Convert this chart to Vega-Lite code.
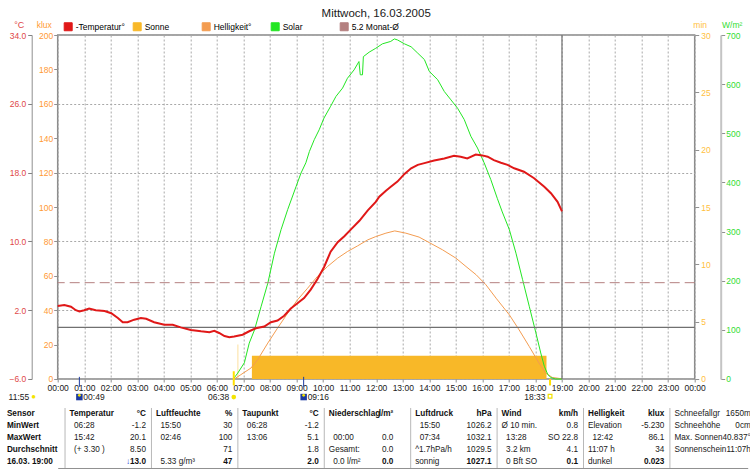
{
  "$schema": "https://vega.github.io/schema/vega-lite/v6.json",
  "padding": {"left": 5.7, "top": 6, "right": 0, "bottom": 0},
  "background": "#ffffff",
  "spacing": 4,
  "resolve": {"scale": {"x": "independent", "y": "independent", "color": "independent"}, "legend": {"color": "independent"}},
  "config": {
    "font": "Liberation Sans",
    "view": {"stroke": null},
    "axis": {"labelFont": "Liberation Sans", "titleFont": "Liberation Sans", "labelFontSize": 8.5, "titleFontSize": 8.5, "titleFontWeight": "normal", "labelOverlap": false},
    "axisY": {"labelOverlap": false},
    "legend": {"labelFont": "Liberation Sans"},
    "title": {"font": "Liberation Sans"},
    "text": {"font": "Liberation Sans", "fontSize": 8.5, "color": "#202020"}
  },
  "datasets": {
    "temp": [
      {"t": "2005-03-16T00:00", "c": 2.5}, {"t": "2005-03-16T00:15", "c": 2.6}, {"t": "2005-03-16T00:30", "c": 2.4},
      {"t": "2005-03-16T00:41", "c": 2.0}, {"t": "2005-03-16T00:49", "c": 1.85}, {"t": "2005-03-16T01:00", "c": 2.0},
      {"t": "2005-03-16T01:11", "c": 2.2}, {"t": "2005-03-16T01:26", "c": 2.0}, {"t": "2005-03-16T01:46", "c": 1.9},
      {"t": "2005-03-16T02:01", "c": 1.65}, {"t": "2005-03-16T02:16", "c": 1.1}, {"t": "2005-03-16T02:27", "c": 0.6},
      {"t": "2005-03-16T02:38", "c": 0.6}, {"t": "2005-03-16T02:53", "c": 0.9}, {"t": "2005-03-16T03:08", "c": 1.1},
      {"t": "2005-03-16T03:20", "c": 1.0}, {"t": "2005-03-16T03:38", "c": 0.6}, {"t": "2005-03-16T04:01", "c": 0.3},
      {"t": "2005-03-16T04:20", "c": 0.3}, {"t": "2005-03-16T04:38", "c": 0.0}, {"t": "2005-03-16T05:01", "c": -0.3},
      {"t": "2005-03-16T05:24", "c": -0.45}, {"t": "2005-03-16T05:43", "c": -0.55}, {"t": "2005-03-16T05:54", "c": -0.4},
      {"t": "2005-03-16T06:05", "c": -0.65}, {"t": "2005-03-16T06:17", "c": -1.0}, {"t": "2005-03-16T06:28", "c": -1.15},
      {"t": "2005-03-16T06:39", "c": -1.05}, {"t": "2005-03-16T06:58", "c": -0.85}, {"t": "2005-03-16T07:13", "c": -0.45},
      {"t": "2005-03-16T07:28", "c": -0.1}, {"t": "2005-03-16T07:47", "c": 0.1}, {"t": "2005-03-16T08:02", "c": 0.6},
      {"t": "2005-03-16T08:17", "c": 0.8}, {"t": "2005-03-16T08:32", "c": 1.35}, {"t": "2005-03-16T08:47", "c": 2.2},
      {"t": "2005-03-16T09:02", "c": 2.8}, {"t": "2005-03-16T09:17", "c": 3.4}, {"t": "2005-03-16T09:32", "c": 4.4},
      {"t": "2005-03-16T09:47", "c": 5.6}, {"t": "2005-03-16T10:02", "c": 7.0}, {"t": "2005-03-16T10:17", "c": 8.8},
      {"t": "2005-03-16T10:33", "c": 9.9}, {"t": "2005-03-16T10:48", "c": 10.6}, {"t": "2005-03-16T11:03", "c": 11.4},
      {"t": "2005-03-16T11:22", "c": 12.4}, {"t": "2005-03-16T11:41", "c": 13.6}, {"t": "2005-03-16T11:59", "c": 14.6},
      {"t": "2005-03-16T12:07", "c": 15.2}, {"t": "2005-03-16T12:22", "c": 15.9}, {"t": "2005-03-16T12:33", "c": 16.35},
      {"t": "2005-03-16T12:48", "c": 16.95}, {"t": "2005-03-16T13:04", "c": 17.85}, {"t": "2005-03-16T13:19", "c": 18.5},
      {"t": "2005-03-16T13:34", "c": 18.9}, {"t": "2005-03-16T13:49", "c": 19.1}, {"t": "2005-03-16T14:11", "c": 19.4},
      {"t": "2005-03-16T14:34", "c": 19.65}, {"t": "2005-03-16T14:56", "c": 19.95}, {"t": "2005-03-16T15:11", "c": 19.85},
      {"t": "2005-03-16T15:26", "c": 19.65}, {"t": "2005-03-16T15:45", "c": 20.1}, {"t": "2005-03-16T16:00", "c": 20.0},
      {"t": "2005-03-16T16:12", "c": 19.85}, {"t": "2005-03-16T16:26", "c": 19.45}, {"t": "2005-03-16T16:42", "c": 19.15},
      {"t": "2005-03-16T16:57", "c": 18.9}, {"t": "2005-03-16T17:12", "c": 18.5}, {"t": "2005-03-16T17:34", "c": 18.1},
      {"t": "2005-03-16T17:57", "c": 17.35}, {"t": "2005-03-16T18:20", "c": 16.35}, {"t": "2005-03-16T18:35", "c": 15.6},
      {"t": "2005-03-16T18:50", "c": 14.6}, {"t": "2005-03-16T19:00", "c": 13.5}
    ],
    "solar": [
      {"t": "2005-03-16T06:37", "w": 0}, {"t": "2005-03-16T06:47", "w": 12}, {"t": "2005-03-16T07:02", "w": 33},
      {"t": "2005-03-16T07:13", "w": 73}, {"t": "2005-03-16T07:25", "w": 100}, {"t": "2005-03-16T07:40", "w": 148},
      {"t": "2005-03-16T07:55", "w": 195}, {"t": "2005-03-16T08:10", "w": 256}, {"t": "2005-03-16T08:25", "w": 304},
      {"t": "2005-03-16T08:40", "w": 345}, {"t": "2005-03-16T08:59", "w": 392}, {"t": "2005-03-16T09:10", "w": 419},
      {"t": "2005-03-16T09:21", "w": 440}, {"t": "2005-03-16T09:29", "w": 463}, {"t": "2005-03-16T09:40", "w": 487},
      {"t": "2005-03-16T09:51", "w": 507}, {"t": "2005-03-16T10:02", "w": 531}, {"t": "2005-03-16T10:17", "w": 555},
      {"t": "2005-03-16T10:29", "w": 575}, {"t": "2005-03-16T10:44", "w": 592}, {"t": "2005-03-16T10:55", "w": 612},
      {"t": "2005-03-16T11:10", "w": 629}, {"t": "2005-03-16T11:21", "w": 646}, {"t": "2005-03-16T11:24", "w": 619},
      {"t": "2005-03-16T11:29", "w": 619}, {"t": "2005-03-16T11:31", "w": 656}, {"t": "2005-03-16T11:44", "w": 665},
      {"t": "2005-03-16T11:59", "w": 673}, {"t": "2005-03-16T12:14", "w": 682}, {"t": "2005-03-16T12:33", "w": 687},
      {"t": "2005-03-16T12:41", "w": 692}, {"t": "2005-03-16T12:48", "w": 690}, {"t": "2005-03-16T13:04", "w": 682},
      {"t": "2005-03-16T13:19", "w": 676}, {"t": "2005-03-16T13:34", "w": 663}, {"t": "2005-03-16T13:49", "w": 650},
      {"t": "2005-03-16T14:00", "w": 626}, {"t": "2005-03-16T14:19", "w": 609}, {"t": "2005-03-16T14:34", "w": 585},
      {"t": "2005-03-16T14:49", "w": 568}, {"t": "2005-03-16T15:04", "w": 551}, {"t": "2005-03-16T15:19", "w": 528},
      {"t": "2005-03-16T15:34", "w": 494}, {"t": "2005-03-16T15:49", "w": 470}, {"t": "2005-03-16T16:04", "w": 440},
      {"t": "2005-03-16T16:19", "w": 406}, {"t": "2005-03-16T16:34", "w": 367}, {"t": "2005-03-16T16:45", "w": 340},
      {"t": "2005-03-16T17:01", "w": 304}, {"t": "2005-03-16T17:16", "w": 256}, {"t": "2005-03-16T17:31", "w": 202},
      {"t": "2005-03-16T17:46", "w": 148}, {"t": "2005-03-16T18:01", "w": 94}, {"t": "2005-03-16T18:12", "w": 53},
      {"t": "2005-03-16T18:20", "w": 26}, {"t": "2005-03-16T18:28", "w": 9}, {"t": "2005-03-16T18:35", "w": 3},
      {"t": "2005-03-16T18:45", "w": 0}, {"t": "2005-03-16T19:00", "w": 0}
    ],
    "hell": [
      {"t": "2005-03-16T06:39", "k": 0}, {"t": "2005-03-16T06:54", "k": 2.5}, {"t": "2005-03-16T07:17", "k": 6.4},
      {"t": "2005-03-16T07:32", "k": 11.2}, {"t": "2005-03-16T07:55", "k": 20.9}, {"t": "2005-03-16T08:17", "k": 29.6},
      {"t": "2005-03-16T08:40", "k": 38.3}, {"t": "2005-03-16T09:02", "k": 46}, {"t": "2005-03-16T09:25", "k": 52.8},
      {"t": "2005-03-16T09:47", "k": 59.6}, {"t": "2005-03-16T10:10", "k": 65.4}, {"t": "2005-03-16T10:33", "k": 70.3},
      {"t": "2005-03-16T10:55", "k": 74.1}, {"t": "2005-03-16T11:18", "k": 77.4}, {"t": "2005-03-16T11:41", "k": 80.9},
      {"t": "2005-03-16T11:59", "k": 82.8}, {"t": "2005-03-16T12:22", "k": 84.8}, {"t": "2005-03-16T12:42", "k": 86.1},
      {"t": "2005-03-16T13:07", "k": 84.8}, {"t": "2005-03-16T13:37", "k": 82.5}, {"t": "2005-03-16T14:00", "k": 79.3},
      {"t": "2005-03-16T14:30", "k": 75.1}, {"t": "2005-03-16T15:00", "k": 70.3}, {"t": "2005-03-16T15:23", "k": 65.4},
      {"t": "2005-03-16T15:46", "k": 60.6}, {"t": "2005-03-16T16:08", "k": 54.8}, {"t": "2005-03-16T16:31", "k": 47},
      {"t": "2005-03-16T17:01", "k": 37.3}, {"t": "2005-03-16T17:23", "k": 28.6}, {"t": "2005-03-16T17:46", "k": 18.9},
      {"t": "2005-03-16T18:08", "k": 9.3}, {"t": "2005-03-16T18:23", "k": 3.5}, {"t": "2005-03-16T18:38", "k": 0.9},
      {"t": "2005-03-16T19:00", "k": 0.1}
    ],
    "sonne": [
      {"t": "2005-03-16T00:00", "m": 0},
      {"t": "2005-03-16T06:40", "m": 0}, {"t": "2005-03-16T06:47", "m": 3.0}, {"t": "2005-03-16T06:48", "m": 0},
      {"t": "2005-03-16T07:19", "m": 2.03}, {"t": "2005-03-16T18:25", "m": 0}, {"t": "2005-03-16T19:00", "m": 0},
      {"t": "2005-03-17T00:00", "m": 0}
    ],
    "ann": [
      {"t": "2005-03-16T06:38", "label": "06:38", "kind": "Sonnenaufgang"},
      {"t": "2005-03-16T18:33", "label": "18:33", "kind": "Sonnenuntergang"},
      {"t": "2005-03-16T00:49", "label": "00:49", "kind": "Mond"},
      {"t": "2005-03-16T09:16", "label": "09:16", "kind": "Mond"},
      {"t": "2005-03-16T00:00", "label": "11:55", "kind": "Tageslänge"},
      {"t": "2005-03-16T19:00", "label": "16.03. 19:00", "kind": "Jetzt"}
    ],
    "table": [
      {"row": "Sensor", "col": 0, "l": "Temperatur", "r": "°C"},
      {"row": "Sensor", "col": 1, "l": "Luftfeuchte", "r": "%"},
      {"row": "Sensor", "col": 2, "l": "Taupunkt", "r": "°C"},
      {"row": "Sensor", "col": 3, "l": "Niederschlag", "r": "l/m²"},
      {"row": "Sensor", "col": 4, "l": "Luftdruck", "r": "hPa"},
      {"row": "Sensor", "col": 5, "l": "Wind", "r": "km/h"},
      {"row": "Sensor", "col": 6, "l": "Helligkeit", "r": "klux"},
      {"row": "Sensor", "col": 7, "l": "Schneefallgr", "r": "1650m"},
      {"row": "MinWert", "col": 0, "l": "06:28", "r": "-1.2"},
      {"row": "MinWert", "col": 1, "l": "15:50", "r": "30"},
      {"row": "MinWert", "col": 2, "l": "06:28", "r": "-1.2"},
      {"row": "MinWert", "col": 3, "l": "", "r": ""},
      {"row": "MinWert", "col": 4, "l": "15:50", "r": "1026.2"},
      {"row": "MinWert", "col": 5, "l": "Ø 10 min.", "r": "0.8"},
      {"row": "MinWert", "col": 6, "l": "Elevation", "r": "-5.230"},
      {"row": "MinWert", "col": 7, "l": "Schneehöhe", "r": "0cm"},
      {"row": "MaxWert", "col": 0, "l": "15:42", "r": "20.1"},
      {"row": "MaxWert", "col": 1, "l": "02:46", "r": "100"},
      {"row": "MaxWert", "col": 2, "l": "13:06", "r": "5.1"},
      {"row": "MaxWert", "col": 3, "l": "00:00", "r": "0.0"},
      {"row": "MaxWert", "col": 4, "l": "07:34", "r": "1032.1"},
      {"row": "MaxWert", "col": 5, "l": "13:28", "r": "SO 22.8"},
      {"row": "MaxWert", "col": 6, "l": "12:42", "r": "86.1"},
      {"row": "MaxWert", "col": 7, "l": "Max. Sonnen", "r": "40.837°"},
      {"row": "Durchschnitt", "col": 0, "l": "(+ 3.30 )", "r": "8.50"},
      {"row": "Durchschnitt", "col": 1, "l": "", "r": "71"},
      {"row": "Durchschnitt", "col": 2, "l": "", "r": "1.8"},
      {"row": "Durchschnitt", "col": 3, "l": "Gesamt:", "r": "0.0"},
      {"row": "Durchschnitt", "col": 4, "l": "^1.7hPa/h", "r": "1029.5"},
      {"row": "Durchschnitt", "col": 5, "l": "3.2 km", "r": "4.1"},
      {"row": "Durchschnitt", "col": 6, "l": "11:07 h", "r": "34"},
      {"row": "Durchschnitt", "col": 7, "l": "Sonnenschein", "r": "11:07h"},
      {"row": "16.03. 19:00", "col": 0, "l": "", "r": "13.0", "pfeil": "↓"},
      {"row": "16.03. 19:00", "col": 1, "l": "5.33 g/m³", "r": "47"},
      {"row": "16.03. 19:00", "col": 2, "l": "", "r": "2.0"},
      {"row": "16.03. 19:00", "col": 3, "l": "0.0 l/m²", "r": "0.0"},
      {"row": "16.03. 19:00", "col": 4, "l": "sonnig", "r": "1027.1"},
      {"row": "16.03. 19:00", "col": 5, "l": "0 Bft SO", "r": "0.1"},
      {"row": "16.03. 19:00", "col": 6, "l": "dunkel", "r": "0.023"},
      {"row": "16.03. 19:00", "col": 7, "l": "", "r": ""}
    ]
  },
  "vconcat": [
    {
      "width": 637,
      "height": 344,
      "title": {"text": "Mittwoch, 16.03.2005", "anchor": "middle", "frame": "group", "fontSize": 11.5, "fontWeight": "normal", "color": "#202020", "offset": 1},
      "view": {"stroke": "#888888", "strokeWidth": 1.5},
      "resolve": {"scale": {"y": "independent"}},
      "layer": [
        {
          "data": {"name": "sonne"},
          "mark": {"type": "area", "interpolate": "step-after", "opacity": 1},
          "encoding": {
            "x": {
              "field": "t", "type": "temporal",
              "scale": {"nice": false},
              "axis": {
                "orient": "bottom", "title": null, "tickCount": 24, "format": "%H:%M",
                "labelFlush": false, "labelOverlap": false, "labelColor": "#202020", "labelPadding": 2,
                "domain": false, "ticks": true, "tickSize": 3, "tickColor": "#909090",
                "grid": true, "gridColor": "#a8a8a8", "gridDash": [2, 2]
              }
            },
            "y": {
              "field": "m", "type": "quantitative",
              "scale": {"domain": [0, 30], "nice": false, "zero": true},
              "axis": {
                "orient": "right", "offset": 0, "values": [0, 5, 10, 15, 20, 25, 30], "format": "d", "labelOverlap": false,
                "labelColor": "#ffc040", "labelPadding": 2, "tickSize": 4, "tickColor": "#909090", "domain": false, "grid": false,
                "title": "min", "titleColor": "#ffc040", "titleAngle": 0, "titleX": 5, "titleY": -11, "titleAlign": "center", "titleBaseline": "middle"
              }
            },
            "color": {
              "datum": "Sonne", "type": "nominal",
              "scale": {"domain": ["-Temperatur°", "Sonne", "Helligkeit°", "Solar", "5.2 Monat-Ø"], "range": ["#e01818", "#f8b828", "#f39c50", "#22e622", "#b48080"]},
              "legend": {
                "orient": "none", "legendX": 6, "legendY": -13, "direction": "horizontal", "columns": 5, "gridAlign": "all",
                "columnPadding": 5, "symbolType": "square", "symbolSize": 64, "symbolStrokeColor": "#303030", "symbolStrokeWidth": 1,
                "labelOffset": 3, "title": null, "labelFontSize": 8.5, "labelLimit": 200
              }
            }
          }
        },
        {
          "data": {"name": "hell"},
          "mark": {"type": "line", "strokeWidth": 1},
          "encoding": {
            "x": {"field": "t", "type": "temporal"},
            "y": {
              "field": "k", "type": "quantitative",
              "scale": {"domain": [0, 200], "nice": false},
              "axis": {
                "orient": "left", "offset": 0, "values": [0, 20, 40, 60, 80, 100, 120, 140, 160, 180, 200], "format": "d", "labelOverlap": false,
                "labelColor": "#ff9933", "labelPadding": 1, "tickSize": 4, "tickColor": "#909090", "domain": false, "grid": false,
                "title": "klux", "titleColor": "#ff9933", "titleAngle": 0, "titleX": -14, "titleY": -11, "titleAlign": "center", "titleBaseline": "middle"
              }
            },
            "color": {"datum": "Helligkeit°", "type": "nominal"}
          }
        },
        {
          "data": {"name": "solar"},
          "mark": {"type": "line", "strokeWidth": 1},
          "encoding": {
            "x": {"field": "t", "type": "temporal"},
            "y": {
              "field": "w", "type": "quantitative",
              "scale": {"domain": [0, 700], "nice": false},
              "axis": {
                "orient": "right", "offset": 26, "values": [0, 100, 200, 300, 400, 500, 600, 700], "format": "d", "labelOverlap": false,
                "labelColor": "#33dd33", "labelPadding": 1, "tickSize": 4, "tickColor": "#909090",
                "domain": true, "domainColor": "#c4c4c4", "domainWidth": 2, "grid": false,
                "title": "W/m²", "titleColor": "#33dd33", "titleAngle": 0, "titleX": 11, "titleY": -11, "titleAlign": "center", "titleBaseline": "middle"
              }
            },
            "color": {"datum": "Solar", "type": "nominal"}
          }
        },
        {
          "layer": [
            {
              "data": {"values": [{"ref": "0 °C"}]},
              "mark": {"type": "rule", "color": "#707070", "strokeWidth": 1.2},
              "encoding": {"y": {"datum": 0, "type": "quantitative"}}
            },
            {
              "data": {"name": "ann"},
              "transform": [{"filter": "datum.kind === 'Jetzt'"}],
              "mark": {"type": "rule", "color": "#707070", "strokeWidth": 1.2},
              "encoding": {"x": {"field": "t", "type": "temporal"}}
            },
            {
              "data": {"values": [{"avg": 5.2}]},
              "mark": {"type": "rule", "strokeDash": [10, 5], "strokeWidth": 1},
              "encoding": {
                "y": {"field": "avg", "type": "quantitative"},
                "color": {"datum": "5.2 Monat-Ø", "type": "nominal"}
              }
            },
            {
              "data": {"name": "temp"},
              "mark": {"type": "line", "strokeWidth": 2},
              "encoding": {
                "x": {"field": "t", "type": "temporal"},
                "y": {
                  "field": "c", "type": "quantitative",
                  "scale": {"domain": [-6, 34], "nice": false, "zero": false},
                  "axis": {
                    "orient": "left", "offset": 26, "values": [-6, -4, -2, 0, 2, 4, 6, 8, 10, 12, 14, 16, 18, 20, 22, 24, 26, 28, 30, 32, 34], "format": ".1f", "labelOverlap": false,
                    "labelColor": "#e04848", "labelPadding": 2, "tickSize": 4, "tickColor": "#808080",
                    "domain": true, "domainColor": "#909090", "grid": true, "gridColor": "#a8a8a8", "gridDash": [2, 2],
                    "title": "°C", "titleColor": "#e04848", "titleAngle": 0, "titleX": -13, "titleY": -11, "titleAlign": "center", "titleBaseline": "middle", "titleFontSize": 9
                  }
                },
                "color": {"datum": "-Temperatur°", "type": "nominal"}
              }
            },
            {
              "data": {"name": "ann"},
              "transform": [{"filter": "datum.kind === 'Sonnenaufgang'"}],
              "mark": {"type": "rule", "color": "#ffe000", "strokeWidth": 2},
              "encoding": {"x": {"field": "t", "type": "temporal"}, "y": {"datum": -5.1}, "y2": {"datum": -6.75}}
            },
            {
              "data": {"name": "ann"},
              "transform": [{"filter": "datum.kind === 'Sonnenuntergang'"}],
              "mark": {"type": "rule", "color": "#ffe000", "strokeWidth": 2},
              "encoding": {"x": {"field": "t", "type": "temporal"}, "y": {"datum": -6.0}, "y2": {"datum": -6.75}}
            },
            {
              "data": {"name": "ann"},
              "transform": [{"filter": "datum.kind === 'Mond'"}],
              "mark": {"type": "rule", "color": "#1c3aa0", "strokeWidth": 1},
              "encoding": {"x": {"field": "t", "type": "temporal"}, "y": {"datum": -5.75}, "y2": {"datum": -6.9}}
            },
            {
              "data": {"name": "ann"},
              "transform": [{"filter": "datum.kind === 'Sonnenaufgang' || datum.kind === 'Sonnenuntergang'"}],
              "mark": {"type": "text", "align": "right", "baseline": "middle", "dx": -4.5},
              "encoding": {"x": {"field": "t", "type": "temporal"}, "y": {"datum": -8.1}, "text": {"field": "label"}}
            },
            {
              "data": {"name": "ann"},
              "transform": [{"filter": "datum.kind === 'Sonnenaufgang'"}],
              "mark": {"type": "point", "shape": "circle", "filled": true, "color": "#f4e400", "size": 22, "opacity": 1},
              "encoding": {"x": {"field": "t", "type": "temporal"}, "y": {"datum": -8.1}}
            },
            {
              "data": {"name": "ann"},
              "transform": [{"filter": "datum.kind === 'Sonnenuntergang'"}],
              "mark": {"type": "point", "shape": "square", "filled": false, "color": "#f0e000", "size": 14, "strokeWidth": 1.2, "opacity": 1},
              "encoding": {"x": {"field": "t", "type": "temporal"}, "y": {"datum": -8.0}}
            },
            {
              "data": {"name": "ann"},
              "transform": [{"filter": "datum.kind === 'Mond'"}],
              "mark": {"type": "point", "shape": "square", "filled": true, "color": "#1c3aa0", "size": 42, "opacity": 1},
              "encoding": {"x": {"field": "t", "type": "temporal"}, "y": {"datum": -8.1}}
            },
            {
              "data": {"name": "ann"},
              "transform": [{"filter": "datum.kind === 'Mond'"}],
              "mark": {"type": "point", "shape": "circle", "filled": true, "color": "#f4e400", "size": 8, "opacity": 1},
              "encoding": {"x": {"field": "t", "type": "temporal"}, "y": {"datum": -7.9}}
            },
            {
              "data": {"name": "ann"},
              "transform": [{"filter": "datum.kind === 'Mond'"}],
              "mark": {"type": "text", "align": "left", "baseline": "middle", "dx": 4},
              "encoding": {"x": {"field": "t", "type": "temporal"}, "y": {"datum": -8.1}, "text": {"field": "label"}}
            },
            {
              "data": {"name": "ann"},
              "transform": [{"filter": "datum.kind === 'Tageslänge'"}],
              "mark": {"type": "text", "align": "right", "baseline": "middle", "dx": -28.5},
              "encoding": {"x": {"field": "t", "type": "temporal"}, "y": {"datum": -8.1}, "text": {"field": "label"}}
            },
            {
              "data": {"name": "ann"},
              "transform": [{"filter": "datum.kind === 'Tageslänge'"}],
              "mark": {"type": "text", "align": "center", "baseline": "middle", "dx": -24, "fontSize": 8, "color": "#f4e400"},
              "encoding": {"x": {"field": "t", "type": "temporal"}, "y": {"datum": -8.1}, "text": {"value": "●"}}
            }
          ]
        }
      ]
    },
    {
      "width": 690,
      "height": 60,
      "view": {"stroke": null},
      "data": {"name": "table"},
      "layer": [
        {
          "transform": [{"filter": "datum.row === 'Sensor'"}],
          "mark": {"type": "rule", "color": "#b8b8b8", "strokeWidth": 1},
          "encoding": {"x": {"field": "col", "type": "quantitative", "scale": {"domain": [-0.085, 7.9], "nice": false, "zero": false}, "axis": {"orient": "bottom", "title": null, "labels": false, "ticks": false, "grid": false, "domain": true, "domainColor": "#909090"}}}
        },
        {
          "transform": [{"filter": "datum.row === 'Sensor' && datum.col < 7"}],
          "mark": {"type": "text", "align": "left", "baseline": "middle", "dx": 4.5, "fontWeight": "bold", "color": "#101010", "fontSize": 8.2},
          "encoding": {
            "x": {"field": "col", "type": "quantitative"},
            "y": {
              "field": "row", "type": "nominal",
              "scale": {"domain": ["Sensor", "MinWert", "MaxWert", "Durchschnitt", "16.03. 19:00"], "padding": 0.5},
              "axis": {"orient": "left", "title": null, "domain": false, "ticks": false, "tickSize": 0, "labelAlign": "left", "labelPadding": 51.3, "labelFontWeight": "bold", "labelFontSize": 8.2, "labelColor": "#101010", "labelBaseline": "middle", "labelLimit": 0, "grid": false}
            },
            "text": {"field": "l"}
          }
        },
        {
          "transform": [{"filter": "!(datum.row === 'Sensor' && datum.col < 7) && !(test(/^[0-9(]/, datum.l) && !test(/ h$/, datum.l))"}],
          "mark": {"type": "text", "align": "left", "baseline": "middle", "dx": 4.5, "fontSize": 8.2},
          "encoding": {"x": {"field": "col", "type": "quantitative"}, "y": {"field": "row", "type": "nominal"}, "text": {"field": "l"}}
        },
        {
          "transform": [{"filter": "test(/^[0-9(]/, datum.l) && !test(/ h$/, datum.l)"}],
          "mark": {"type": "text", "align": "left", "baseline": "middle", "dx": 9, "fontSize": 8.2},
          "encoding": {"x": {"field": "col", "type": "quantitative"}, "y": {"field": "row", "type": "nominal"}, "text": {"field": "l"}}
        },
        {
          "transform": [{"filter": "((datum.row === 'Sensor' && datum.col < 7) || datum.row === '16.03. 19:00') && datum.col !== 3"}],
          "mark": {"type": "text", "align": "right", "baseline": "middle", "dx": 80.9, "fontWeight": "bold", "color": "#101010", "fontSize": 8.2},
          "encoding": {"x": {"field": "col", "type": "quantitative"}, "y": {"field": "row", "type": "nominal"}, "text": {"field": "r"}}
        },
        {
          "transform": [{"filter": "((datum.row === 'Sensor' && datum.col < 7) || datum.row === '16.03. 19:00') && datum.col === 3"}],
          "mark": {"type": "text", "align": "right", "baseline": "middle", "dx": 69, "fontWeight": "bold", "color": "#101010", "fontSize": 8.2},
          "encoding": {"x": {"field": "col", "type": "quantitative"}, "y": {"field": "row", "type": "nominal"}, "text": {"field": "r"}}
        },
        {
          "transform": [{"filter": "!((datum.row === 'Sensor' && datum.col < 7) || datum.row === '16.03. 19:00') && datum.col !== 3"}],
          "mark": {"type": "text", "align": "right", "baseline": "middle", "dx": 80.9, "fontSize": 8.2},
          "encoding": {"x": {"field": "col", "type": "quantitative"}, "y": {"field": "row", "type": "nominal"}, "text": {"field": "r"}}
        },
        {
          "transform": [{"filter": "!((datum.row === 'Sensor' && datum.col < 7) || datum.row === '16.03. 19:00') && datum.col === 3"}],
          "mark": {"type": "text", "align": "right", "baseline": "middle", "dx": 69, "fontSize": 8.2},
          "encoding": {"x": {"field": "col", "type": "quantitative"}, "y": {"field": "row", "type": "nominal"}, "text": {"field": "r"}}
        },
        {
          "transform": [{"filter": "datum.pfeil"}],
          "mark": {"type": "text", "align": "right", "baseline": "middle", "dx": 65, "fontWeight": "bold", "color": "#2040d8", "fontSize": 8.2},
          "encoding": {"x": {"field": "col", "type": "quantitative"}, "y": {"field": "row", "type": "nominal"}, "text": {"field": "pfeil"}}
        }
      ]
    }
  ]
}
